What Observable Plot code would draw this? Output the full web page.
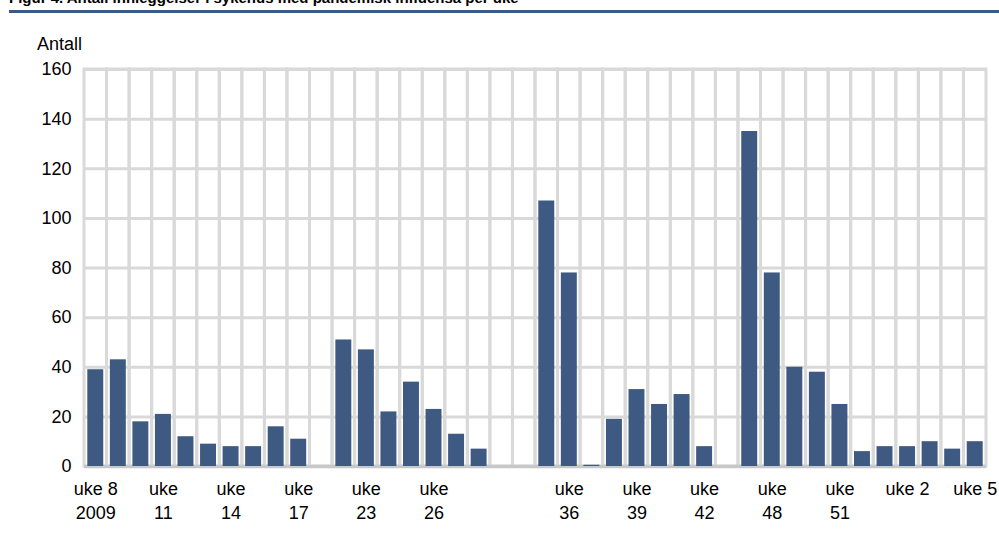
<!DOCTYPE html>
<html><head><meta charset="utf-8">
<script src="https://cdn.jsdelivr.net/npm/d3@7"></script>
<script src="https://cdn.jsdelivr.net/npm/@observablehq/plot@0.6"></script>
<style>
html,body{margin:0;padding:0;background:#fff;overflow:hidden}
#wrap{position:relative;width:999px;height:539px;font-family:"Liberation Sans",Arial,sans-serif;color:#000}
#title{position:absolute;left:9px;top:-10px;font-size:15px;font-weight:bold;line-height:15px;white-space:nowrap}
#rule{position:absolute;left:9px;right:0;top:10px;height:3px;background:#3d5a87}
#ylab{position:absolute;left:37px;top:34px;font-size:18px;line-height:20px}
#chart{position:absolute;left:0;top:0}
</style></head>
<body>
<div id="wrap">
  <div id="chart"></div>
  <div id="title">Figur 4. Antall innleggelser i sykehus med pandemisk influensa per uke</div>
  <div id="rule"></div>
  <div id="ylab">Antall</div>
</div>
<script>
// bar values, one per week slot (left to right)
const values = [39,43,18,21,12,9,8,8,16,11,0,51,47,22,34,23,13,7,0,0,107,78,0.5,19,31,25,29,8,0,135,78,40,38,25,6,8,8,10,7,10];
// tick labels shown under the slots ("" = no label)
const tickLabels = ["uke 8\n2009","","","uke\n11","","","uke\n14","","","uke\n17","","","uke\n23","","","uke\n26","","","","","","uke\n36","","","uke\n39","","","uke\n42","","","uke\n48","","","uke\n51","","","uke 2","","","uke 5"];
const categories = tickLabels.map((t, i) => i);
const yTicks = [0,20,40,60,80,100,120,140,160];

const rows = categories.map((c, i) => ({slot: c, value: values[i], label: tickLabels[i]}));
const labeled = rows.filter(d => d.label !== "");

const chart = Plot.plot({
  width: 999,
  height: 539,
  marginLeft: 84,
  marginRight: 13,
  marginTop: 69,
  marginBottom: 73,
  style: {fontFamily: "'Liberation Sans', Arial, sans-serif", fontSize: "18px", color: "#000", background: "transparent", overflow: "visible"},
  x: {type: "band", domain: categories, padding: 0, round: false, axis: null},
  y: {domain: [0, 160], axis: null},
  marks: [
    Plot.cell(rows, {x: "slot", fill: "none", stroke: "#d9d9d9", strokeWidth: 3}),
    Plot.gridY(yTicks, {stroke: "#d9d9d9", strokeWidth: 3, strokeOpacity: 1}),
    Plot.ruleY([0], {stroke: "#c8c8c8", strokeWidth: 3.5}),
    Plot.barY(rows, {x: "slot", y: "value", fill: "#3e5a82", insetLeft: 3.3, insetRight: 3.3}),
    Plot.axisY(yTicks, {tickSize: 0, tickPadding: 13, label: null, fontSize: 18}),
    Plot.text(labeled, {x: "slot", text: "label", frameAnchor: "bottom", lineAnchor: "top", dy: 11, lineHeight: 1.36, fontSize: 18, fill: "#000"})
  ]
});
document.getElementById("chart").appendChild(chart);
</script>
</body></html>
